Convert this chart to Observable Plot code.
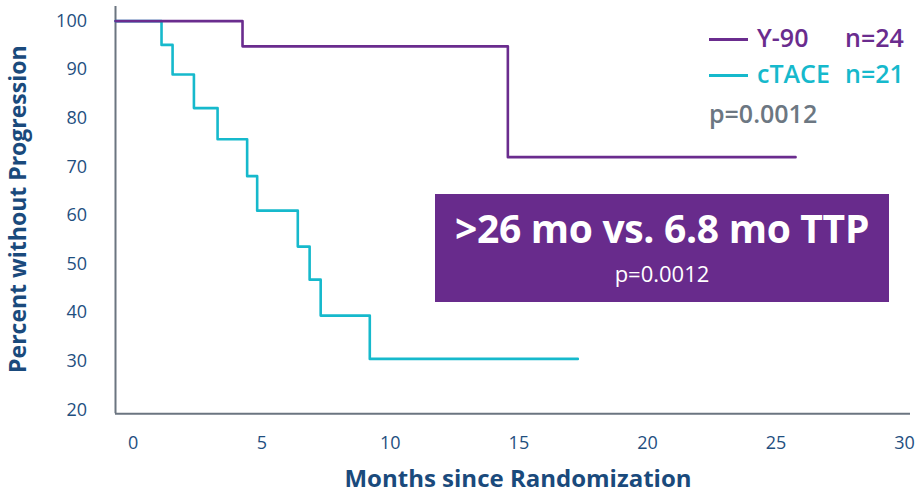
<!DOCTYPE html>
<html>
<head>
<meta charset="utf-8">
<script src="https://cdn.jsdelivr.net/npm/d3@7"></script>
<script src="https://cdn.jsdelivr.net/npm/@observablehq/plot@0.6"></script>
<style>
  html, body { margin: 0; padding: 0; background: #fff; }
  #wrap { position: relative; width: 915px; height: 500px; font-family: "Open Sans", sans-serif; }
  #wrap svg { position: absolute; left: 0; top: 0; }
  .leg { position: absolute; white-space: nowrap; line-height: 1; font-size: 25px; font-weight: 600; }
  .legline { position: absolute; height: 3px; width: 39px; left: 709px; }
  #box { position: absolute; left: 435px; top: 194px; width: 454px; height: 108px; background: #682b8c; color: #fff; }
  #box div { position: absolute; left: 0; width: 100%; text-align: center; line-height: 1; white-space: nowrap; }
</style>
</head>
<body>
<div id="wrap"></div>
<script>
// Kaplan–Meier steps (months, percent)
const y90Months   = [-0.69, 4.25, 14.57, 25.76];
const y90Percent  = [100, 94.8, 72.0, 72.0];
const ctaceMonths  = [-0.69, 1.10, 1.53, 2.36, 3.28, 4.43, 4.82, 6.40, 6.86, 7.29, 9.20, 17.29];
const ctacePercent = [100, 95.1, 89.0, 82.1, 75.7, 68.1, 61.0, 53.6, 46.8, 39.4, 30.5, 30.5];
const xTicks = [0, 5, 10, 15, 20, 25, 30];
const yTicks = [20, 30, 40, 50, 60, 70, 80, 90, 100];
const seriesNames = ["Y-90", "cTACE"];
const seriesN = ["n=24", "n=21"];
const pValue = "p=0.0012";
const calloutText = ">26 mo vs. 6.8 mo TTP";

const purple = "#6a2c8e", cyan = "#16b9cc";
const xDomain = [-0.69, 30.23], yDomain = [19.2, 103];

const y90 = y90Months.map((m, i) => ({month: m, pct: y90Percent[i]}));
const ctace = ctaceMonths.map((m, i) => ({month: m, pct: ctacePercent[i]}));

const chart = Plot.plot({
  width: 915, height: 500,
  marginLeft: 115, marginRight: 5, marginTop: 6, marginBottom: 86.7,
  style: {fontFamily: "'Open Sans', sans-serif", background: "transparent"},
  x: {domain: xDomain},
  y: {domain: yDomain},
  marks: [
    Plot.axisY({ticks: yTicks, tickSize: 0, tickPadding: 28.5, fontSize: 18, color: "#1f4f7f", label: null}),
    Plot.axisX({ticks: xTicks, tickSize: 0, tickPadding: 22, fontSize: 18, color: "#1f4f7f", label: null}),
    Plot.ruleX([xDomain[0]], {stroke: "#6b7580", strokeWidth: 2}),
    Plot.ruleY([yDomain[0]], {stroke: "#6b7580", strokeWidth: 2}),
    Plot.line(ctace, {x: "month", y: "pct", curve: "step-after", stroke: cyan, strokeWidth: 2.6}),
    Plot.line(y90, {x: "month", y: "pct", curve: "step-after", stroke: purple, strokeWidth: 2.6}),
    Plot.text(["Percent without Progression"], {frameAnchor: "left", textAnchor: "middle", rotate: -90, dx: -97, dy: -1, fontSize: 23, fontWeight: "bold", fill: "#1a4a7c"}),
    Plot.text(["Months since Randomization"], {frameAnchor: "bottom", textAnchor: "middle", dx: 5, dy: 73, fontSize: 24, fontWeight: "bold", fill: "#1a4a7c"})
  ]
});
const wrap = document.getElementById("wrap");
wrap.appendChild(chart);

// legend
const legColors = [purple, cyan];
const legTop = [39, 75];
seriesNames.forEach((name, i) => {
  const ln = document.createElement("div");
  ln.className = "legline"; ln.style.top = (legTop[i] - 1.5) + "px"; ln.style.background = legColors[i];
  wrap.appendChild(ln);
  const t = document.createElement("div");
  t.className = "leg"; t.style.left = "757px"; t.style.top = (legTop[i] + 8 - 22.2) + "px"; t.style.color = legColors[i];
  t.textContent = name; wrap.appendChild(t);
  const n = document.createElement("div");
  n.className = "leg"; n.style.left = "845px"; n.style.top = (legTop[i] + 8 - 22.2) + "px"; n.style.color = legColors[i];
  n.textContent = seriesN[i]; wrap.appendChild(n);
});
const p = document.createElement("div");
p.className = "leg"; p.style.left = "709px"; p.style.top = (123 - 22.2) + "px"; p.style.color = "#6c7782";
p.textContent = pValue; wrap.appendChild(p);

// callout box
const box = document.createElement("div"); box.id = "box";
const b1 = document.createElement("div");
b1.style.top = (49 - 34.6) + "px"; b1.style.fontSize = "39px"; b1.style.fontWeight = "700"; b1.style.letterSpacing = "-0.3px"; b1.textContent = calloutText;
const b2 = document.createElement("div");
b2.style.top = (87 - 19.5) + "px"; b2.style.fontSize = "22px"; b2.style.fontWeight = "400"; b2.textContent = pValue;
box.appendChild(b1); box.appendChild(b2);
wrap.appendChild(box);
</script>
</body>
</html>
